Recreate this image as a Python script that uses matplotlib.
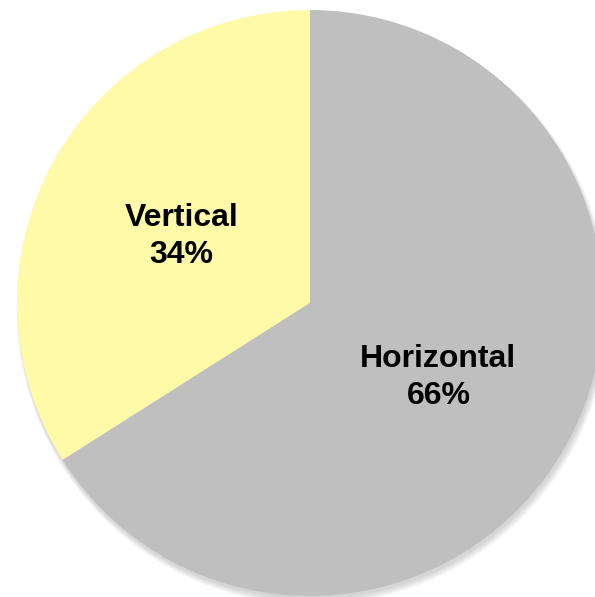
import matplotlib
matplotlib.use("Agg")
import matplotlib.pyplot as plt
from matplotlib.patches import Circle
import numpy as np

# Share of orientation types
categories = ["Vertical", "Horizontal"]
shares = [34, 66]
colors = ["#FFFAA8", "#BFBFBF"]

W, H = 595, 597
fig = plt.figure(figsize=(W / 100, H / 100), dpi=100)
ax = fig.add_axes([0, 0, 1, 1])

# pie centre and radius in pixels
cx, cy, R = 310, 303, 293

# soft drop shadow beneath the pie
for k in range(6):
    ax.add_patch(Circle((0.004 + 0.001 * k, -0.010 - 0.002 * k), 1.0 + 0.002 * k,
                        facecolor="#7f7f7f", edgecolor="none", alpha=0.06, zorder=0))

wedges = ax.pie(shares, colors=colors, startangle=90, counterclock=True,
                radius=1.0, center=(0, 0), frame=True,
                wedgeprops=dict(edgecolor="none", linewidth=0))[0]
ax.set_xlim(-cx / R, (W - cx) / R)
ax.set_ylim(-(H - cy) / R, cy / R)
ax.set_aspect("auto")
ax.axis("off")

for w, cat, val in zip(wedges, categories, shares):
    mid = np.deg2rad((w.theta1 + w.theta2) / 2)
    ax.text(0.5 * np.cos(mid), 0.5 * np.sin(mid) - 0.014, f"{cat}\n{val}%",
            ha="center", va="center", fontsize=23, fontweight="bold",
            family="Liberation Sans", linespacing=1.33, color="black", zorder=5)

fig.savefig("out.png", dpi=100, facecolor="white")
